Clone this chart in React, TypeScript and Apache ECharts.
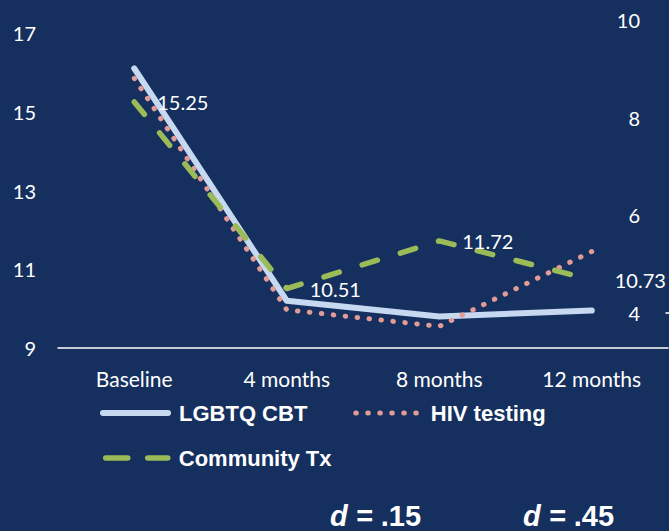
import React, { useEffect, useRef } from "react";
import * as echarts from "echarts";

const categories = ["Baseline", "4 months", "8 months", "12 months"];
const lgbtqCbt = [16.1, 10.2, 9.8, 9.95];
const hivTesting = [15.85, 9.97, 9.55, 11.45];
const communityTx = [15.25, 10.51, 11.72, 10.73];
const seriesNames = ["LGBTQ CBT", "HIV testing", "Community Tx"];
const leftAxis = { min: 9, max: 17, interval: 2 };
const rightAxis = { min: 4, max: 10, interval: 2 };
const effectSizes = [".15", ".45"];

const BG = "#152f5e";
const FONT = "Lato";
const BLUE = "#c6d9f1";
const PINK = "#e39b98";
const GREEN = "#9bbb59";

export default function App() {
  const ref = useRef<HTMLDivElement>(null);
  useEffect(() => {
    if (!ref.current) return;
    const chart = echarts.init(ref.current, null, { renderer: "svg" });
    const legendText = {
      color: "#ffffff",
      fontFamily: "Liberation Sans",
      fontWeight: "bold",
      fontSize: 22,
      padding: [0, 0, 0, 6],
    };
    const lineStyles = [
      { color: BLUE, width: 6, cap: "round", join: "round", type: "solid" },
      { color: PINK, width: 5, cap: "round", join: "round", type: [0.5, 11.5] },
      { color: GREEN, width: 5.5, cap: "round", join: "round", type: [16, 24] },
    ];
    const legendBase = {
      padding: 0,
      itemWidth: 65,
      itemHeight: 14,
      itemStyle: { opacity: 0 },
      textStyle: legendText,
    };
    chart.setOption({
      animation: false,
      backgroundColor: BG,
      grid: [
        { left: 58, right: 1, top: 33, bottom: 183, containLabel: false },
        { left: 666, width: 100, top: 20, bottom: 218, containLabel: false },
      ],
      legend: [
        {
          ...legendBase,
          data: [
            { name: seriesNames[0], lineStyle: { ...lineStyles[0], width: 6 } },
            { name: seriesNames[1], lineStyle: { ...lineStyles[1], dashOffset: -1 } },
          ],
          left: 100,
          top: 402,
          itemGap: 45,
        },
        {
          ...legendBase,
          data: [{ name: seriesNames[2], lineStyle: { ...lineStyles[2], type: [22, 20], dashOffset: -3 } }],
          left: 100,
          top: 447,
        },
      ],
      xAxis: [
        {
          type: "category",
          gridIndex: 0,
          data: categories,
          boundaryGap: true,
          axisLine: { show: true, lineStyle: { color: "#ffffff", width: 1.5 } },
          axisTick: { show: false },
          axisLabel: { color: "#ffffff", fontFamily: FONT, fontSize: 21, margin: 20 },
          splitLine: { show: false },
        },
        {
          type: "category",
          gridIndex: 1,
          data: categories,
          axisLine: { show: true, lineStyle: { color: "#ffffff", width: 1.5 } },
          axisTick: { show: false },
          axisLabel: { show: false },
          splitLine: { show: false },
        },
      ],
      yAxis: [
        {
          type: "value",
          gridIndex: 0,
          min: leftAxis.min,
          max: leftAxis.max,
          interval: leftAxis.interval,
          axisLine: { show: false },
          axisTick: { show: false },
          splitLine: { show: false },
          axisLabel: { color: "#ffffff", fontFamily: FONT, fontSize: 20, margin: 22 },
        },
        {
          type: "value",
          gridIndex: 1,
          position: "left",
          min: rightAxis.min,
          max: rightAxis.max,
          interval: rightAxis.interval,
          axisLine: { show: false },
          axisTick: { show: false },
          splitLine: { show: false },
          axisLabel: { color: "#ffffff", fontFamily: FONT, fontSize: 20, margin: 26 },
        },
      ],
      series: [
        {
          name: seriesNames[0],
          type: "line",
          data: lgbtqCbt,
          symbol: "none",
          color: BLUE,
          lineStyle: lineStyles[0],
          z: 2,
        },
        {
          name: seriesNames[1],
          type: "line",
          data: hivTesting,
          symbol: "none",
          color: PINK,
          lineStyle: lineStyles[1],
          z: 3,
        },
        {
          name: seriesNames[2],
          type: "line",
          data: communityTx,
          symbol: "circle",
          symbolSize: 2,
          showSymbol: true,
          showAllSymbol: true,
          itemStyle: { color: "rgba(0,0,0,0)", borderWidth: 0 },
          color: GREEN,
          lineStyle: lineStyles[2],
          label: {
            show: true,
            position: "right",
            distance: 22,
            color: "#ffffff",
            fontFamily: FONT,
            fontSize: 20,
            opacity: 1,
          },
          labelLayout: { hideOverlap: false },
          z: 4,
        },
      ],
      graphic: effectSizes.map((v, i) => ({
        type: "text",
        left: i === 0 ? 330 : 523,
        top: 501,
        style: {
          text: "{i|d =} {n|" + v + "}",
          rich: {
            i: {
              fontStyle: "italic",
              fontWeight: "bold",
              fontSize: 29,
              fontFamily: "Liberation Sans",
              fill: "#ffffff",
            },
            n: {
              fontWeight: "bold",
              fontSize: 29,
              fontFamily: "Liberation Sans",
              fill: "#ffffff",
            },
          },
          fill: "#ffffff",
          font: "bold 29px 'Liberation Sans'",
        },
      })),
    });
    return () => chart.dispose();
  }, []);
  return (
    <div
      ref={ref}
      style={{ position: "fixed", left: 0, top: 0, width: 669, height: 531 }}
    />
  );
}
